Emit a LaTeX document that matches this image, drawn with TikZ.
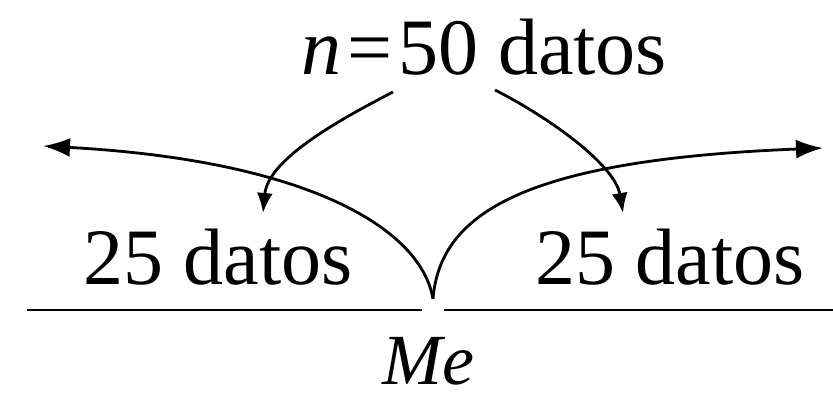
\documentclass[tikz,border=0pt]{standalone}
\usepackage{fontspec}
\setmainfont{Liberation Serif}
\usetikzlibrary{arrows.meta}
\begin{document}
\begin{tikzpicture}[x=1pt,y=-1pt,
  lbl/.style={inner sep=0pt,anchor=base,font=\fontsize{80}{96}\selectfont},
  bigarr/.style={line width=2.8pt,-{Latex[length=27pt,width=19pt]}},
  smallarr/.style={line width=2.8pt,-{Latex[length=20pt,width=16pt]}},
  axis/.style={line width=2.8pt}]

\useasboundingbox (0,0) rectangle (833,398);

\node[lbl] (total) at (484,75) {\textit{n}\kern6pt=\kern6pt50 datos};
\node[lbl] (left) at (218,284) {25 datos};
\node[lbl] (right) at (670,284) {25 datos};
\node[lbl,font=\fontsize{72}{86}\selectfont\itshape] (me) at (428,384) {Me};

\node[circle,minimum size=22pt,inner sep=0pt] (mept) at (433,310) {};
\coordinate (axL) at (27,310);
\coordinate (axR) at (833,310);
\coordinate (tipL) at (43,146);
\coordinate (tipR) at (823,148);

\draw[axis] (axL) -- (mept);
\draw[axis] (mept) -- (axR);

\draw[bigarr] (mept.north) .. controls (420,225) and (300,160) .. (tipL);
\draw[bigarr] (mept.north) .. controls (440,215) and (520,160) .. (tipR);

\draw[smallarr] ([xshift=-91pt,yshift=-17pt]total.base) .. controls (335,122) and (268,160) .. ([xshift=45pt,yshift=71pt]left.base);
\draw[smallarr] ([xshift=11pt,yshift=-15pt]total.base) .. controls (550,118) and (615,165) .. ([xshift=-47pt,yshift=71pt]right.base);

\end{tikzpicture}
\end{document}
